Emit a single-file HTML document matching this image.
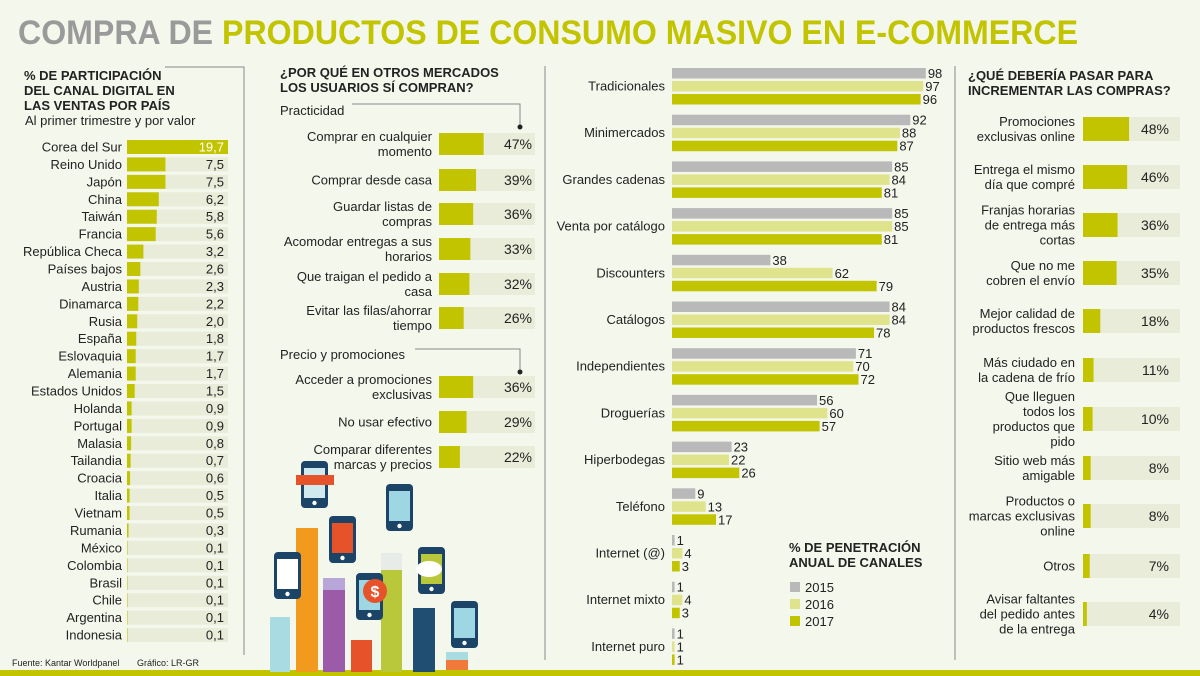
<!DOCTYPE html>
<html><head><meta charset="utf-8"><style>
html,body{margin:0;padding:0;background:#f4f7ec;}
svg{display:block;font-family:"Liberation Sans",sans-serif;}
</style></head><body>
<svg id="s" width="1200" height="676" viewBox="0 0 1200 676">
<rect width="1200" height="676" fill="#f4f7ec"/>
<text x="18" y="44" font-size="34" font-weight="bold" textLength="1060" lengthAdjust="spacingAndGlyphs"><tspan fill="#9a9a9a">COMPRA DE </tspan><tspan fill="#c2c400">PRODUCTOS DE  CONSUMO MASIVO EN E-COMMERCE</tspan></text>
<g stroke="#8a8a8a" stroke-width="1" fill="none">
<polyline points="165,67 244,67 244,655"/>
<line x1="545" y1="66" x2="545" y2="660"/>
<line x1="955" y1="66" x2="955" y2="660"/>
<polyline points="352,104 520,104 520,127"/>
<polyline points="415,349 520,349 520,372"/>
</g>
<circle cx="520" cy="127" r="2.5" fill="#222"/>
<circle cx="520" cy="372" r="2.5" fill="#222"/>
<rect x="0" y="670" width="1200" height="6" fill="#c2c400"/>
<text x="12" y="666" font-size="9" fill="#222">Fuente: Kantar Worldpanel</text>
<text x="137" y="666" font-size="9" fill="#222">Gráfico: LR-GR</text>

<g font-weight="bold" font-size="13" fill="#222">
<text x="24" y="80"><tspan x="24">% DE PARTICIPACIÓN</tspan><tspan x="24" dy="15">DEL CANAL DIGITAL EN</tspan><tspan x="24" dy="15">LAS VENTAS POR PAÍS</tspan></text>
<text x="280" y="77"><tspan x="280">¿POR QUÉ EN OTROS MERCADOS</tspan><tspan x="280" dy="15">LOS USUARIOS SÍ COMPRAN?</tspan></text>
<text x="968" y="80"><tspan x="968">¿QUÉ DEBERÍA PASAR PARA</tspan><tspan x="968" dy="15">INCREMENTAR LAS COMPRAS?</tspan></text>
<text x="789" y="552"><tspan x="789">% DE PENETRACIÓN</tspan><tspan x="789" dy="15">ANUAL DE CANALES</tspan></text>
</g>
<text x="25" y="125" font-size="13" fill="#222">Al primer trimestre y por valor</text>
<text x="280" y="115" font-size="13" fill="#222">Practicidad</text>
<text x="280" y="359" font-size="13" fill="#222">Precio y promociones</text>

<g id="illus"></g>
<g id="g1"></g><g id="g2"></g><g id="g3"></g><g id="g4"></g>
</svg>
<script>
const countries=["Corea del Sur","Reino Unido","Japón","China","Taiwán","Francia","República Checa","Países bajos","Austria","Dinamarca","Rusia","España","Eslovaquia","Alemania","Estados Unidos","Holanda","Portugal","Malasia","Tailandia","Croacia","Italia","Vietnam","Rumania","México","Colombia","Brasil","Chile","Argentina","Indonesia"];
const shares=[19.7,7.5,7.5,6.2,5.8,5.6,3.2,2.6,2.3,2.2,2.0,1.8,1.7,1.7,1.5,0.9,0.9,0.8,0.7,0.6,0.5,0.5,0.3,0.1,0.1,0.1,0.1,0.1,0.1];
const reasons=["Comprar en cualquier|momento","Comprar desde casa","Guardar listas de|compras","Acomodar entregas a sus|horarios","Que traigan el pedido a|casa","Evitar las filas/ahorrar|tiempo","Acceder a promociones|exclusivas","No usar efectivo","Comparar diferentes|marcas y precios"];
const reasonPct=[47,39,36,33,32,26,36,29,22];
const channels=["Tradicionales","Minimercados","Grandes cadenas","Venta por catálogo","Discounters","Catálogos","Independientes","Droguerías","Hiperbodegas","Teléfono","Internet (@)","Internet mixto","Internet puro"];
const years=["2015","2016","2017"];
const v2015=[98,92,85,85,38,84,71,56,23,9,1,1,1];
const v2016=[97,88,84,85,62,84,70,60,22,13,4,4,1];
const v2017=[96,87,81,81,79,78,72,57,26,17,3,3,1];
const improve=["Promociones|exclusivas online","Entrega el mismo|día que compré","Franjas horarias|de entrega más|cortas","Que no me|cobren el envío","Mejor calidad de|productos frescos","Más ciudado en|la cadena de frío","Que lleguen|todos los|productos que|pido","Sitio web más|amigable","Productos o|marcas exclusivas|online","Otros","Avisar faltantes|del pedido antes|de la entrega"];
const improvePct=[48,46,36,35,18,11,10,8,8,7,4];

const NS="http://www.w3.org/2000/svg";
const GREEN="#c2c400",LIGHT="#dfe48c",GRAY="#b9b9b9",TRACK="#e8ecd9";
function mk(p,tag,at,txt){const e=document.createElementNS(NS,tag);for(const k in at)e.setAttribute(k,at[k]);if(txt!==undefined)e.textContent=txt;p.appendChild(e);return e;}
function multiText(p,x,cy,str,size,anchor){const lines=str.split("|");const lh=size+2;const t=mk(p,"text",{x:x,y:cy-(lines.length-1)*lh/2+size*0.35,"font-size":size,"text-anchor":anchor,fill:"#222"});lines.forEach((l,i)=>{mk(t,"tspan",{x:x,dy:i?lh:0},l);});return t;}

// Country chart
const g1=document.getElementById("g1");
const cx0=127,cTrack=101,cScale=cTrack/19.7;
function cy1(i){return 147+i*17.43;}
countries.forEach((c,i)=>{const y=cy1(i);
 const tr=mk(g1,"rect",{x:cx0,y:y-7,width:cTrack,height:14,fill:TRACK});
 
 
 const b=mk(g1,"rect",{x:cx0,y:y-7,width:shares[i]*cScale,height:14,fill:GREEN});
 
 
 const l=mk(g1,"text",{x:122,y:y+4.5,"font-size":13,"text-anchor":"end",fill:"#222"},c);
 
 
 const v=mk(g1,"text",{x:224,y:y+4.5,"font-size":13,"text-anchor":"end",fill:i===0?"#fff":"#222"},shares[i].toFixed(1).replace(".",","));
 
 
});

// Reasons chart
const g2=document.getElementById("g2");
const rYs=[144,180,214,249,284,318,387,422,457];
const rx0=439,rScale=0.95;
reasons.forEach((r,i)=>{const y=rYs[i];
 const tr=mk(g2,"rect",{x:rx0,y:y-11,width:96,height:22,fill:TRACK});
 
 
 const b=mk(g2,"rect",{x:rx0,y:y-11,width:reasonPct[i]*rScale,height:22,fill:GREEN});
 
 
 const l=multiText(g2,432,y,r,13,"end");
 
 
 const v=mk(g2,"text",{x:532,y:y+5,"font-size":14,"text-anchor":"end",fill:"#222"},reasonPct[i]+"%");
 
 
});

// Channels chart
const g3=document.getElementById("g3");
const chx0=672,chScale=2.59;
const series=[v2015,v2016,v2017],cols=[GRAY,LIGHT,GREEN];
channels.forEach((c,i)=>{const y=86+i*46.7;
 const l=mk(g3,"text",{x:665,y:y+4.5,"font-size":13,"text-anchor":"end",fill:"#222"},c);
 
 
 series.forEach((s,k)=>{const by=y+(k-1)*13;const w=Math.max(s[i]*chScale,2.6);
  const b=mk(g3,"rect",{x:chx0,y:by-5,width:w,height:10.5,fill:cols[k]});
  
  
  const v=mk(g3,"text",{x:chx0+w+2,y:by+5,"font-size":13,fill:"#222"},s[i]);
  
  
 });
});
years.forEach((yr,k)=>{const y=588+k*17;
 const sw=mk(g3,"rect",{x:790,y:y-6,width:10,height:10,fill:cols[k]});
 
 
 const t=mk(g3,"text",{x:805,y:y+4,"font-size":13,fill:"#222"},yr);
 
 
});

// Improve chart
const g4=document.getElementById("g4");
const iYs=[129,177,225,273,321,370,419,468,516,566,614];
const ix0=1083,iScale=0.96;
improve.forEach((r,i)=>{const y=iYs[i];
 const tr=mk(g4,"rect",{x:ix0,y:y-12,width:97,height:24,fill:TRACK});
 
 
 const b=mk(g4,"rect",{x:ix0,y:y-12,width:improvePct[i]*iScale,height:24,fill:GREEN});
 
 
 const l=multiText(g4,1075,y,r,13,"end");
 
 
 const v=mk(g4,"text",{x:1169,y:y+5,"font-size":14,"text-anchor":"end",fill:"#222"},improvePct[i]+"%");
 
 
});

// Illustration (decorative)
const il=document.getElementById("illus");
[[270,617,20,55,"#a9dbe3"],[296,528,22,144,"#f29a1e"],[323,578,22,94,"#9b5ba8"],[323,578,22,12,"#b8a6d8"],[351,640,21,32,"#e6532a"],[381,570,21,102,"#b8c83a"],[381,553,21,17,"#e8ece8"],[413,608,22,64,"#1f4e72"],[446,660,22,10,"#f07a3a"],[446,652,22,8,"#a9dbe3"]].forEach(a=>mk(il,"rect",{x:a[0],y:a[1],width:a[2],height:a[3],fill:a[4]}));
[[274,552,"#ffffff"],[301,461,"#cfe9ef"],[329,516,"#e6532a"],[356,573,"#9fd6e3"],[386,484,"#9fd6e3"],[418,547,"#b8c83a"],[451,601,"#9fd6e3"]].forEach(p=>{
 mk(il,"rect",{x:p[0],y:p[1],width:27,height:47,rx:4,fill:"#1c4466"});
 mk(il,"rect",{x:p[0]+3,y:p[1]+7,width:21,height:30,fill:p[2]});
 mk(il,"circle",{cx:p[0]+13.5,cy:p[1]+42,r:2.2,fill:"#fff"});
});
mk(il,"rect",{x:296,y:475,width:38,height:10,fill:"#e6532a"});
mk(il,"circle",{cx:375,cy:591,r:12,fill:"#e6532a"});
mk(il,"text",{x:375,y:597,"font-size":16,"font-weight":"bold","text-anchor":"middle",fill:"#fff"},"$");
mk(il,"ellipse",{cx:429,cy:569,rx:13,ry:8,fill:"#fff"});
</script>
</body></html>
